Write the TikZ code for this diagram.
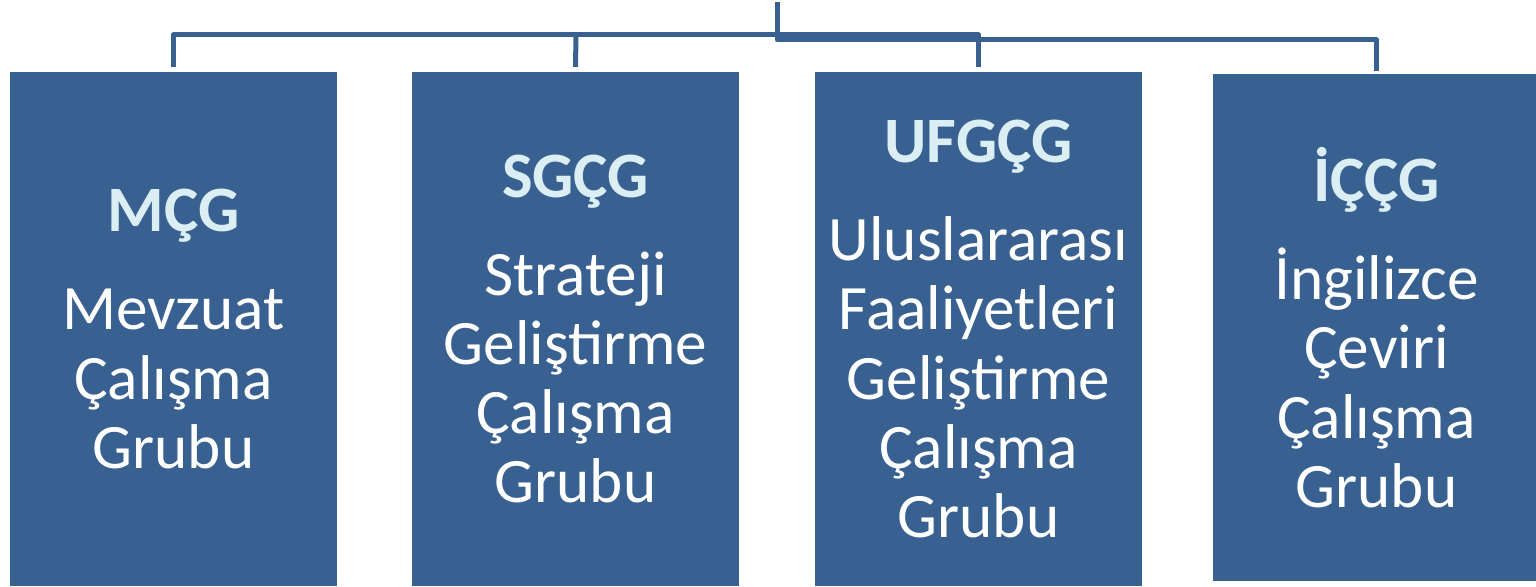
\documentclass[tikz,border=0pt]{standalone}
\usepackage{fontspec}
\setmainfont{Carlito}
\usepackage{xcolor}
\definecolor{boxblue}{RGB}{56,97,146}
\definecolor{titleblue}{RGB}{218,238,243}
\newcommand{\grouptitle}[1]{{\fontsize{65}{69.5}\selectfont\bfseries\color{titleblue}#1}}

\begin{document}
\begin{tikzpicture}[x=1bp,y=-1bp,
		group/.style={fill=boxblue,text=white,align=center,inner sep=0pt,
			minimum width=327bp,minimum height=514bp,
			font=\fontsize{63.5}{69.5}\selectfont},
		link/.style={draw=boxblue,line width=5bp,line join=round}]
		\useasboundingbox (0,0) rectangle (1536,587);

		% Working groups
		\node[group] (mcg) at (173.5,329) {\grouptitle{MÇG}\\[29bp]Mevzuat\\Çalışma\\Grubu};
		\node[group] (sgcg) at (575.5,329) {\grouptitle{SGÇG}\\[29bp]Strateji\\Geliştirme\\Çalışma\\Grubu};
		\node[group] (ufgcg) at (978.5,329) {\grouptitle{UFGÇG}\\[29bp]Uluslararası\\Faaliyetleri\\Geliştirme\\Çalışma\\Grubu};
		\node[group,minimum height=507bp] (iccg) at (1376.5,327.5) {\grouptitle{İÇÇG}\\[29bp]İngilizce\\Çeviri\\Çalışma\\Grubu};

		% Connectors
		\coordinate (root) at (777,2);
		\coordinate (splitA) at (576,35);
		\coordinate (splitB) at (777,40);
		\draw[link] ([yshift=5bp]mcg.north) |- (splitA) -| ([yshift=5bp]ufgcg.north);
		\draw[link] (splitA) -- ([yshift=5bp]sgcg.north);
		\draw[link] (root) -- (splitB) -| ([yshift=3bp]iccg.north);
\end{tikzpicture}
\end{document}
